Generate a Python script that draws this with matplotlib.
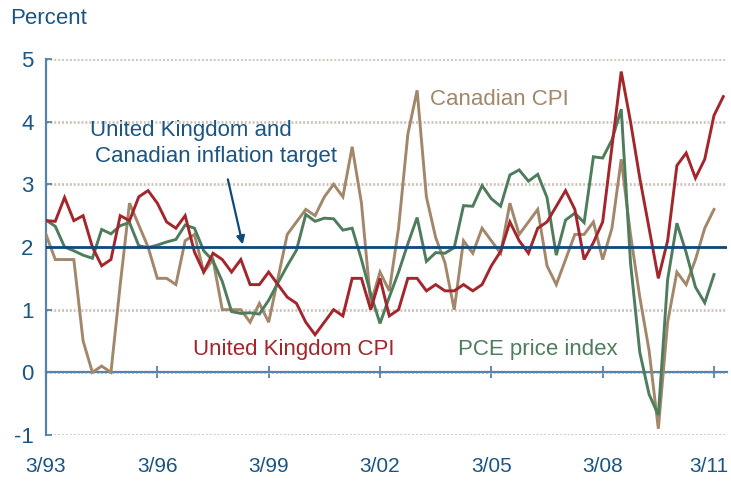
import numpy as np
import matplotlib
matplotlib.use("Agg")
import matplotlib.pyplot as plt
from matplotlib.transforms import ScaledTranslation

# Quarterly year-over-year inflation, percent (first quarter = 1993 Q1)
uk_cpi = [2.42, 2.41, 2.79, 2.42, 2.5, 2.0, 1.7, 1.8, 2.5, 2.42,
          2.8, 2.9, 2.7, 2.4, 2.3, 2.5, 1.92, 1.6, 1.9, 1.8,
          1.6, 1.8, 1.4, 1.4, 1.6, 1.4, 1.2, 1.1, 0.8, 0.6,
          0.8, 1.0, 0.9, 1.5, 1.5, 1.0, 1.5, 0.9, 1.0, 1.5,
          1.5, 1.3, 1.4, 1.3, 1.3, 1.4, 1.3, 1.4, 1.7, 1.93,
          2.4, 2.1, 1.9, 2.3, 2.4, 2.65, 2.9, 2.6, 1.8, 2.07,
          2.4, 3.6, 4.8, 4.0, 3.1, 2.3, 1.5, 2.1, 3.3, 3.5,
          3.1, 3.4, 4.1, 4.4]

pce_index = [2.43, 2.33, 2.0, 1.94, 1.87, 1.82, 2.28, 2.21, 2.34, 2.39,
             2.02, 1.99, 2.03, 2.08, 2.12, 2.35, 2.3, 1.94, 1.78, 1.45,
             0.97, 0.94, 0.95, 0.93, 1.15, 1.43, 1.7, 1.95, 2.52, 2.41,
             2.46, 2.45, 2.27, 2.3, 1.8, 1.25, 0.78, 1.2, 1.6, 2.05,
             2.47, 1.77, 1.91, 1.9, 1.99, 2.66, 2.65, 2.98, 2.77, 2.65,
             3.15, 3.23, 3.05, 3.16, 2.79, 1.87, 2.43, 2.54, 2.39, 3.44,
             3.42, 3.71, 4.2, 1.75, 0.32, -0.35, -0.68, 1.48, 2.38, 1.91,
             1.36, 1.11, 1.56]

canada_cpi = [2.2, 1.8, 1.8, 1.8, 0.5, 0.0, 0.1, 0.0, 1.4, 2.7,
              2.35, 2.0, 1.5, 1.5, 1.4, 2.1, 2.2, 1.6, 1.8, 1.0,
              1.0, 1.0, 0.8, 1.1, 0.8, 1.5, 2.2, 2.4, 2.6, 2.5,
              2.8, 3.0, 2.8, 3.6, 2.7, 1.1, 1.6, 1.3, 2.3, 3.8,
              4.5, 2.8, 2.15, 1.75, 1.0, 2.1, 1.9, 2.3, 2.1, 1.9,
              2.7, 2.2, 2.4, 2.6, 1.7, 1.4, 1.8, 2.2, 2.2, 2.4,
              1.8, 2.3, 3.4, 2.2, 1.2, 0.35, -0.9, 0.8, 1.6, 1.4,
              1.8, 2.3, 2.6]

inflation_target = 2.0
tick_positions = [0, 12, 24, 36, 48, 60, 72]
tick_labels = ["3/93", "3/96", "3/99", "3/02", "3/05", "3/08", "3/11"]
y_ticks = [-1, 0, 1, 2, 3, 4, 5]

RED = "#a3262c"
GREEN = "#4e7d5d"
TAN = "#a2876a"
TARGET = "#0f4a78"
TEXT_BLUE = "#1b5583"
STEEL = "#5583ab"
GRID = "#cdc3b8"

plt.rcParams["font.family"] = ["Liberation Sans", "DejaVu Sans"]
plt.rcParams["font.size"] = 16

fig = plt.figure(figsize=(7.31, 4.83), dpi=100)
ax = fig.add_axes([46 / 731, 48 / 483, 681 / 731, 376 / 483])

ax.set_xlim(0, 73.4)
ax.set_ylim(-1, 5)
ax.set_yticks(y_ticks)
ax.set_yticklabels([str(v) for v in y_ticks])
ax.yaxis.grid(True, color=GRID, linewidth=2.0, linestyle=(0, (0.7, 0.7)), zorder=0)
ax.set_axisbelow(True)

for side in ("top", "right"):
    ax.spines[side].set_visible(False)
ax.spines["left"].set_color(STEEL)
ax.spines["left"].set_linewidth(1.6)
ax.spines["bottom"].set_position(("data", 0))
ax.spines["bottom"].set_color(STEEL)
ax.spines["bottom"].set_linewidth(1.6)

ax.set_xticks(tick_positions)
ax.tick_params(axis="x", direction="inout", length=9, width=1.3, color=STEEL,
               labelbottom=False)
ax.tick_params(axis="y", direction="in", length=4.5, width=1.3, color=STEEL,
               pad=9, labelcolor=TEXT_BLUE, labelsize=16)

sec = ax.secondary_xaxis("bottom")
sec.set_xticks(tick_positions, labels=tick_labels)
sec.spines["bottom"].set_visible(False)
sec.tick_params(length=0, pad=16, labelcolor=TEXT_BLUE, labelsize=15)
last_label = sec.xaxis.get_major_ticks()[-1].label1
last_label.set_transform(last_label.get_transform()
                         + ScaledTranslation(-5 / 100, 0, fig.dpi_scale_trans))

q_can = np.arange(len(canada_cpi))
q_pce = np.arange(len(pce_index))
q_uk = np.arange(len(uk_cpi))

ax.plot(q_can, canada_cpi, color=TAN, lw=2.1, zorder=3, solid_joinstyle="miter")
ax.plot(q_pce, pce_index, color=GREEN, lw=2.1, zorder=3.1, solid_joinstyle="miter")
ax.plot(q_uk, uk_cpi, color=RED, lw=2.1, zorder=3.2, solid_joinstyle="miter")
ax.axhline(inflation_target, color=TARGET, lw=2.0, zorder=4)

ax.text(4.74, 3.86, "United Kingdom and", color=TEXT_BLUE, fontsize=16,
        ha="left", va="center")
ax.text(5.28, 3.45, "Canadian inflation target", color=TEXT_BLUE, fontsize=16,
        ha="left", va="center")
ax.annotate("", xy=(21.2, 2.04), xytext=(19.6, 3.08),
            arrowprops=dict(arrowstyle="-|>", color=TARGET, lw=1.6,
                            mutation_scale=12, shrinkA=0, shrinkB=0))
ax.text(41.4, 4.36, "Canadian CPI", color=TAN, fontsize=16, ha="left", va="center")
ax.text(15.85, 0.37, "United Kingdom CPI", color=RED, fontsize=16, ha="left", va="center")
ax.text(44.4, 0.37, "PCE price index", color=GREEN, fontsize=16, ha="left", va="center")

fig.text(10 / 731, 1 - 18 / 483, "Percent", color=TEXT_BLUE, fontsize=16,
         ha="left", va="center")

fig.savefig("out.png", dpi=100)
